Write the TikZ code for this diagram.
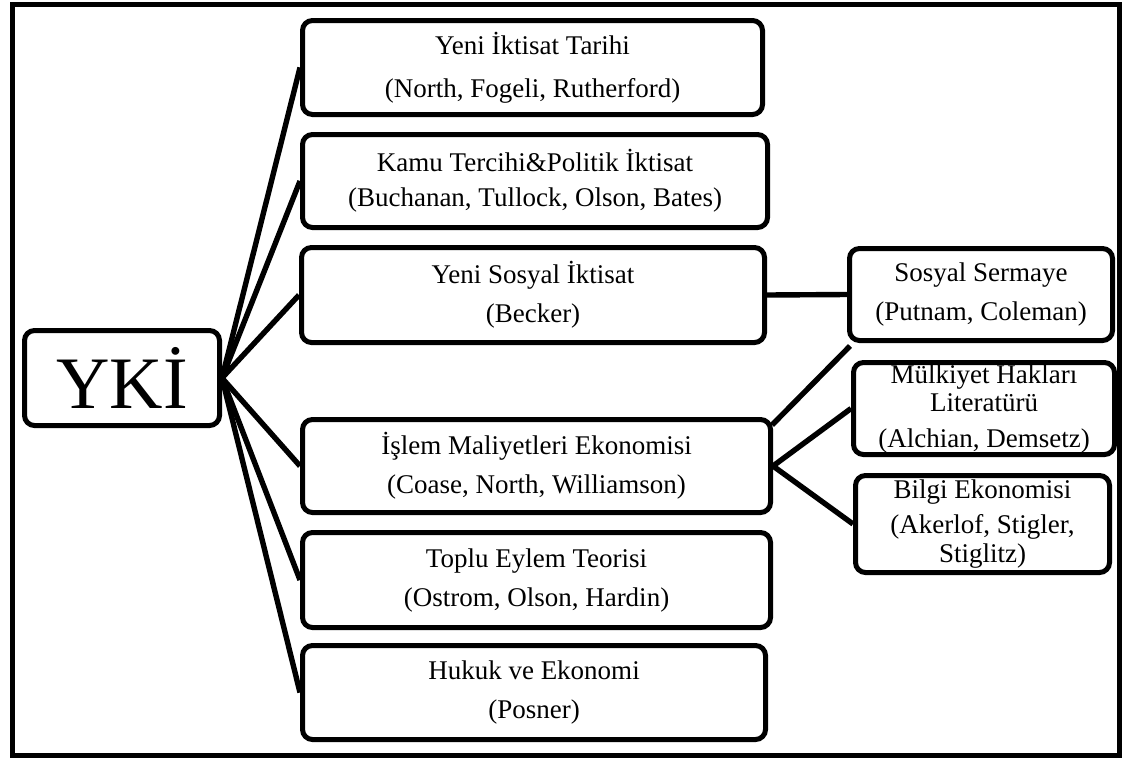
\documentclass[tikz,border=0pt]{standalone}
\usepackage{fontspec}
\setmainfont{Liberation Serif}
\begin{document}
\begin{tikzpicture}[x=0.5pt,y=-0.5pt,
  kutu/.style={draw,line width=2.5pt,rounded corners=5pt,align=center,inner sep=0pt,
    font=\fontsize{13.5}{19.5}\selectfont},
  bag/.style={line width=2.7pt}]
\useasboundingbox(0,0) rectangle (1122,760);
\draw[line width=2.5pt](12.5,4.5) rectangle (1119.5,755.5);
\node[kutu,minimum width=97.5pt,minimum height=47.5pt,font=\fontsize{37}{37}\selectfont](yki) at (122,378){YKİ};
\node[kutu,minimum width=230pt,minimum height=47pt](tarih) at (532.5,67.5){Yeni İktisat Tarihi\\[2pt](North, Fogeli, Rutherford)};
\node[kutu,minimum width=232.5pt,minimum height=46.5pt](kamu) at (535,181){Kamu Tercihi\&Politik İktisat\\[-2pt](Buchanan, Tullock, Olson, Bates)};
\node[kutu,minimum width=231.5pt,minimum height=47.5pt](sosyal) at (533,295){Yeni Sosyal İktisat\\(Becker)};
\node[kutu,minimum width=234pt,minimum height=46.5pt](islem) at (536.5,466){İşlem Maliyetleri Ekonomisi\\(Coase, North, Williamson)};
\node[kutu,minimum width=234pt,minimum height=47.5pt](toplu) at (536.5,580){Toplu Eylem Teorisi\\(Ostrom, Olson, Hardin)};
\node[kutu,minimum width=231.5pt,minimum height=47pt](hukuk) at (534,692.5){Hukuk ve Ekonomi\\(Posner)};
\node[kutu,minimum width=131.5pt,minimum height=46pt](sermaye) at (981,294.5){Sosyal Sermaye\\(Putnam, Coleman)};
\node[kutu,minimum width=130.5pt,minimum height=46pt](mulkiyet) at (984,408.5){Mülkiyet Hakları\\[-5.5pt]Literatürü\\[-1.5pt](Alchian, Demsetz)};
\node[kutu,minimum width=127pt,minimum height=48.5pt](bilgi) at (982.5,524){Bilgi Ekonomisi\\[-2pt](Akerlof, Stigler,\\[-5pt]Stiglitz)};
\foreach \k in {tarih,kamu,sosyal,islem,toplu,hukuk}
  \draw[bag](yki.east)--(\k.west);
\draw[bag](sosyal.east)--(sermaye.west);
\draw[bag]([shift={(-0.5pt,-4pt)}]islem.north east)--([shift={(1.5pt,-1.5pt)}]sermaye.south west);
\draw[bag](islem.east)--(mulkiyet.west);
\draw[bag](islem.east)--(bilgi.west);
\end{tikzpicture}
\end{document}
